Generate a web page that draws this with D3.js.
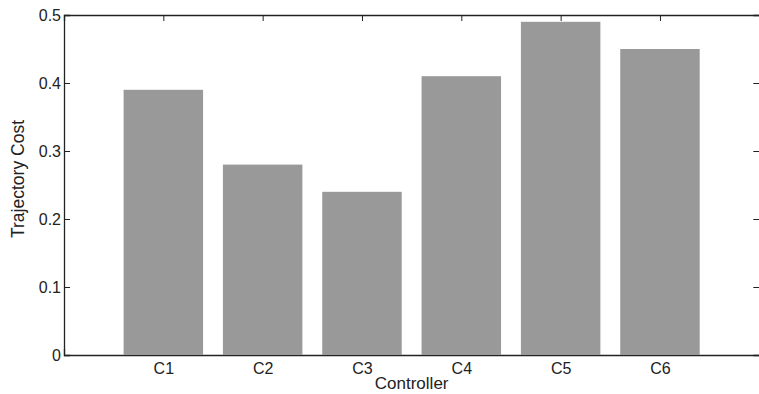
<!DOCTYPE html>
<html lang="en">
<head>
<meta charset="UTF-8">
<title>Trajectory Cost</title>
<style>
  body { margin: 0; background: #fff; }
  svg text { font-family: "Liberation Sans", Arial, sans-serif; fill: #222; }
</style>
</head>
<body>
<svg id="chart" width="759" height="394"></svg>
<script src="https://d3js.org/d3.v7.min.js"></script>
<script>

let categories = ["C1", "C2", "C3", "C4", "C5", "C6"];
let costs = [0.39, 0.28, 0.24, 0.41, 0.49, 0.45];
let yTicks = [0, 0.1, 0.2, 0.3, 0.4, 0.5];

let margin = {top: 15, right: 0, bottom: 39, left: 64},
    width = 695.3,
    height = 340;

let svg = d3.select("#chart");
let chart = svg.append("g")
    .attr("transform", "translate(" + margin.left + "," + margin.top + ")");

// categories sit at 1..6 on a 0..7 axis, like the original plot
let xScale = d3.scaleLinear().domain([0, 7]).range([0, width]);
let yScale = d3.scaleLinear().domain([0, 0.5]).range([height, 0]);
let barW = xScale(0.8) - xScale(0);

chart.selectAll("rect.bar")
    .data(costs)
    .enter()
    .append("rect")
    .attr("class", "bar")
    .attr("x", (d, i) => xScale(i + 1) - barW / 2)
    .attr("y", d => yScale(d))
    .attr("width", barW)
    .attr("height", d => height - yScale(d))
    .attr("fill", "#999999");

let catIdx = categories.map((c, i) => i + 1);

// left axis with labels, ticks pointing inward
let yAxis = chart.append("g")
    .call(d3.axisLeft(yScale).tickValues(yTicks).tickSize(-6).tickPadding(3)
        .tickFormat(d => d === 0 ? "0" : d3.format(".1f")(d)));
yAxis.selectAll("text").style("font-size", "16px");

// right axis, ticks only
chart.append("g")
    .attr("transform", "translate(" + width + ",0)")
    .call(d3.axisRight(yScale).tickValues(yTicks).tickSize(-6).tickFormat(""));

// bottom axis with category labels
let xAxis = chart.append("g")
    .attr("transform", "translate(0," + height + ")")
    .call(d3.axisBottom(xScale).tickValues(catIdx).tickSize(-6).tickPadding(7.5)
        .tickFormat(d => categories[d - 1]));
xAxis.selectAll("text").style("font-size", "16px");

// top axis, ticks only
chart.append("g")
    .call(d3.axisTop(xScale).tickValues(catIdx).tickSize(-6).tickFormat(""));

chart.selectAll(".domain").attr("stroke", "#222").attr("stroke-width", 1.3);
chart.selectAll(".tick line").attr("stroke", "#222");
chart.selectAll(".tick text").attr("fill", "#222");

// bars cover the bottom ticks like the original
chart.selectAll("rect.bar").raise();
chart.selectAll(".domain").raise();

svg.append("text")
    .attr("x", margin.left + width / 2)
    .attr("y", 389)
    .attr("text-anchor", "middle")
    .style("font-size", "17px")
    .text("Controller");

svg.append("text")
    .attr("transform", "translate(24,179) rotate(-90)")
    .attr("text-anchor", "middle")
    .style("font-size", "17.5px")
    .text("Trajectory Cost");

</script>
</body>
</html>
